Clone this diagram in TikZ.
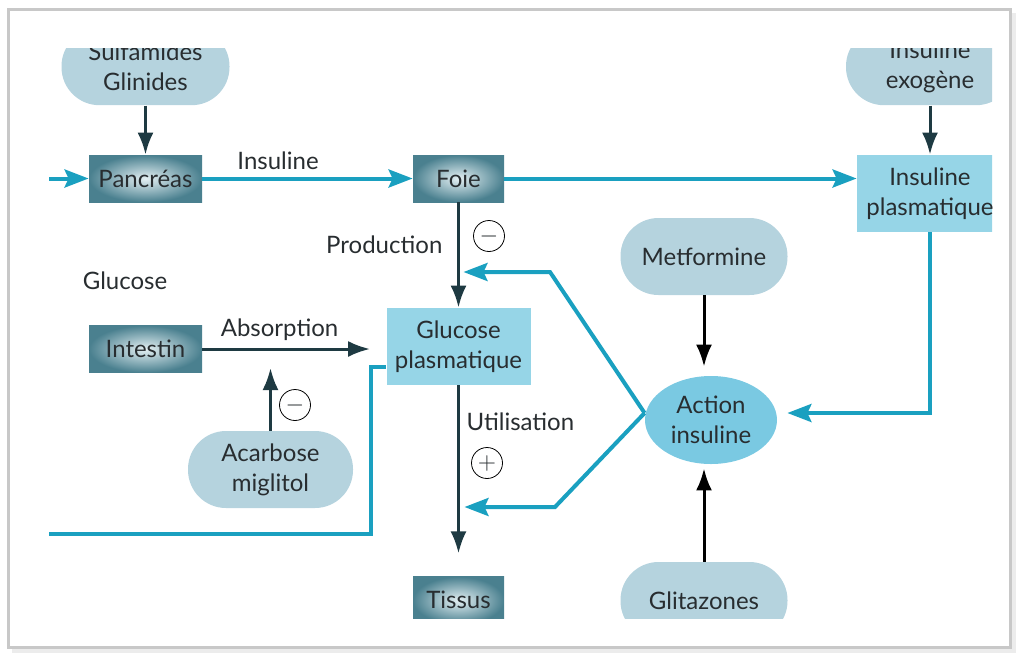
\documentclass[tikz,border=0pt]{standalone}
\usepackage{fontspec}
\setmainfont{Lato}
\usepackage{tikz}
\usetikzlibrary{arrows.meta,positioning,shapes.geometric,calc}

\definecolor{lineblue}{RGB}{26,160,192}
\definecolor{darkteal}{RGB}{30,58,66}
\definecolor{pillfill}{RGB}{181,211,222}
\definecolor{boxfill}{RGB}{150,213,231}
\definecolor{actfill}{RGB}{122,201,226}
\definecolor{organout}{RGB}{74,128,143}
\definecolor{organin}{RGB}{228,240,243}
\definecolor{txtgray}{RGB}{40,45,48}
\definecolor{framegray}{RGB}{200,200,200}

\begin{document}
\begin{tikzpicture}[
    x=0.5pt, y=-0.5pt,
    % --- STYLES ---
    every node/.style={font=\fontsize{12}{15}\selectfont, text=txtgray},
    drug/.style={
        rectangle, rounded corners=19pt,
        fill=pillfill,
        minimum width=84pt,
        minimum height=38.5pt,
        align=center, inner sep=2pt
    },
    organ/.style={
        rectangle, inner color=organin, outer color=organout,
        minimum width=56.5pt, minimum height=23.5pt,
        inner sep=2pt
    },
    plasma/.style={
        rectangle, fill=boxfill,
        minimum width=72pt, minimum height=38.5pt,
        align=center, inner sep=2pt
    },
    effect/.style={ellipse, fill=actfill, minimum width=66pt, minimum height=44pt, align=center, inner sep=1pt},
    sign/.style={circle, draw=black, thin, minimum size=15.5pt, inner sep=0pt},
    flow/.style={-{Stealth[length=12pt,width=9pt,inset=2pt]}, draw=lineblue, line width=2pt},
    control/.style={-{Latex[length=11pt,width=8pt]}, draw=darkteal, line width=1.5pt}
]

\useasboundingbox (0,0) rectangle (1019,655);

% ===== 1. FRAME =====
\draw[gray!15, line width=2pt] (12,651) -- (1014,651) -- (1014,13);
\draw[framegray, line width=1.5pt] (8,9) rectangle (1010,647);

% ===== 2. COLUMNS =====
\def\xLeft{145.5}
\def\xMid{458.5}
\def\xDrug{704}
\def\xRight{930}

\begin{scope}
\clip (49,48) rectangle (992,618);

% ===== 3. NODES =====
\node[organ] (pancreas) at (\xLeft,178.5) {Pancréas};
\node[drug, above=24.5pt of pancreas] (sulf) {Sulfamides\\Glinides};

\node[organ, minimum width=45.5pt] (foie) at (\xMid,178.5) {Foie};

\node[plasma, minimum width=73pt] (insplas) at (\xRight,193.5) {Insuline\\plasmatique};
\node[drug, above=24.5pt of insplas] (exo) {Insuline\\exogène};

\node (glucose) at (125,281) {Glucose};

\node[organ] (intestin) at (\xLeft,349) {Intestin};
\node[plasma] (glucplas) at (\xMid,346.5) {Glucose\\plasmatique};
\node[drug, minimum width=82.5pt] (acarb) at (270.5,469.5) {Acarbose\\miglitol};
\node[organ, minimum width=45.5pt, below=95.5pt of glucplas] (tissus) {Tissus};

% Action de l'insuline et ses modulateurs
\node[effect] (action) at (711,420) {Action\\insuline};
\node[drug, minimum width=83.5pt] (metf) at (\xDrug,256.5) {Metformine};
\node[drug, minimum width=83.5pt] (glitaz) at (\xDrug,600.5) {Glitazones};

% Signes
\node[sign] (minusprod) at (489,236) {$-$};
\node[sign] (minusabs) at (295,405) {$-$};
\node[sign] (plusutil) at (487,463) {$+$};

% ===== 4. CONNECTIONS =====
\coordinate (inpanc) at (20,178.5);
\coordinate (kprod) at (550,272);
\coordinate (kutil) at (555,507);
\coordinate (fb) at (20,534);
\coordinate (actin) at ([yshift=3.5pt]action.east);
\coordinate (actout) at ([yshift=3.5pt]action.west);

% -- Insuline --
\draw[flow] (inpanc) -- (pancreas);
\draw[flow] (pancreas) -- node[above, pos=0.36] {Insuline} (foie);
\draw[flow] (foie) -- (foie -| insplas.west);
\draw[control] (sulf) -- (pancreas);
\draw[control] (exo) -- (insplas);
\draw[flow, shorten >=5pt] (insplas) |- (actin);

% -- Glucose --
\draw[control] (foie) -- node[left=4pt, pos=0.4] {Production} (glucplas);
\draw[control, shorten >=8pt] (intestin) -- node[above, pos=0.42] {Absorption} (intestin -| glucplas.west);
\draw[control, shorten >=9.5pt] (acarb) -- (acarb |- intestin);
\draw[control, shorten >=11.5pt] (glucplas) -- node[right, pos=0.19] {Utilisation} (tissus);

% Retour vers le pancréas
\draw[flow, -] ([yshift=-10pt]glucplas.west) -- ++(-15,0) |- (fb);

% -- Action insuline --
\draw[control, draw=black, shorten >=4.5pt] (metf) -- (metf |- action.north);
\draw[control, draw=black, shorten >=2pt] (glitaz) -- (glitaz |- action.south);
\draw[flow, shorten >=2.5pt] (actout) -- (kprod) -- (kprod -| foie);
\draw[flow, shorten >=3pt] (actout) -- (kutil) -- (kutil -| glucplas);

\end{scope}

\end{tikzpicture}
\end{document}
